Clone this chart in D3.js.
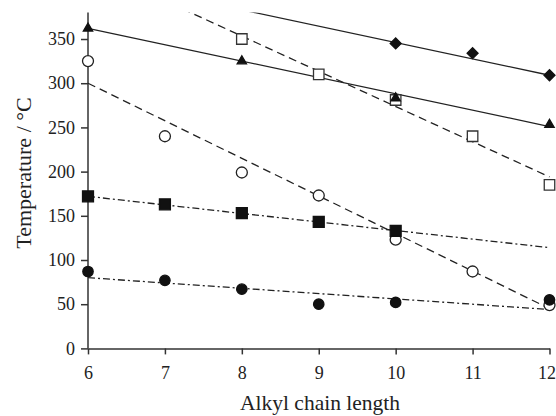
<!DOCTYPE html>
<html>
<head>
<meta charset="utf-8">
<script src="https://cdn.jsdelivr.net/npm/d3@7"></script>
<style>
  body { margin: 0; background: #fff; }
  text { font-family: "Liberation Serif", "Times New Roman", serif; }
</style>
</head>
<body>
<div class="canvas"></div>
<script>
const width = 556;
const height = 416;

// Data
const xTicks = [6, 7, 8, 9, 10, 11, 12];
const yTicks = [0, 50, 100, 150, 200, 250, 300, 350];

const diamondPts = [[10, 345], [11, 334], [12, 309]];
const diamondFit = [[6, 420], [12, 309]];

const trianglePts = [[6, 362], [8, 325], [10, 283], [12, 253]];
const triangleFit = [[6, 362], [12, 251]];

const openSquarePts = [[8, 350], [9, 310], [10, 281], [11, 240], [12, 185]];
const openSquareFit = [[6, 433], [12, 194]];

const openCirclePts = [[6, 325], [7, 240], [8, 199], [9, 173], [10, 123], [11, 87], [12, 49]];
const openCircleFit = [[6, 300], [12, 45]];

const filledSquarePts = [[6, 172], [7, 163], [8, 153], [9, 143], [10, 133]];
const filledSquareFit = [[6, 172], [12, 114]];

const filledCirclePts = [[6, 87], [7, 77], [8, 67], [9, 50], [10, 52], [12, 55]];
const filledCircleFit = [[6, 80], [12, 44]];

// Scales
const xScale = d3.scaleLinear().domain([6, 12]).range([88, 549.5]);
const yScale = d3.scaleLinear().domain([0, 380]).range([348.4, 12.5]);

const svg = d3.select(".canvas")
  .append("svg")
  .attr("width", width)
  .attr("height", height);

svg.append("clipPath")
  .attr("id", "plot")
  .append("rect")
  .attr("x", 80).attr("y", yScale(380))
  .attr("width", 480).attr("height", yScale(0) - yScale(380) + 10);

// Axes
const xAxis = d3.axisBottom(xScale).tickValues(xTicks).tickFormat(d3.format("d"))
  .tickSize(6).tickSizeOuter(0).tickPadding(12);
const yAxis = d3.axisLeft(yScale).tickValues(yTicks).tickFormat(d3.format("d"))
  .tickSize(7).tickSizeOuter(0).tickPadding(6);

const gx = svg.append("g")
  .attr("transform", `translate(0,${yScale(0)})`)
  .call(xAxis);
const gy = svg.append("g")
  .attr("transform", `translate(${xScale(6)},0)`)
  .call(yAxis);

[gx, gy].forEach(g => {
  g.selectAll("path, line").attr("stroke", "#333").attr("stroke-width", 1.5);
  g.selectAll("text").attr("font-size", 18).attr("fill", "#222")
    .style("font-family", "'Liberation Serif', serif");
});
gy.select(".domain").attr("d", `M0,${yScale(0)}V${yScale(380)}`);
// keep the last x label inside the frame
gx.selectAll(".tick text").filter(d => d === 12).attr("dx", -3);

// Axis titles
svg.append("text")
  .attr("x", 320)
  .attr("y", 410)
  .attr("text-anchor", "middle")
  .attr("font-size", 21.5)
  .attr("fill", "#222")
  .text("Alkyl chain length");

svg.append("text")
  .attr("transform", "translate(31,173) rotate(-90)")
  .attr("text-anchor", "middle")
  .attr("font-size", 22)
  .attr("fill", "#222")
  .text("Temperature / \u00B0C");

// Fit lines
const line = d3.line().x(d => xScale(d[0])).y(d => yScale(d[1]));
const plot = svg.append("g").attr("clip-path", "url(#plot)");

const fits = [
  [diamondFit, null],
  [triangleFit, null],
  [openSquareFit, "8,5"],
  [openCircleFit, "8,5"],
  [filledSquareFit, "7,3,2,3"],
  [filledCircleFit, "7,3,2,3"]
];
fits.forEach(([d, dash]) => {
  plot.append("path")
    .datum(d)
    .attr("d", line)
    .attr("fill", "none")
    .attr("stroke", "#222")
    .attr("stroke-width", 1.3)
    .attr("stroke-dasharray", dash);
});

// Markers
function drawPoints(data, type, size, fill, stroke, rot) {
  svg.append("g")
    .selectAll("path")
    .data(data)
    .enter()
    .append("path")
    .attr("transform", d => `translate(${xScale(d[0])},${yScale(d[1])}) rotate(${rot || 0})`)
    .attr("d", d3.symbol().type(type).size(size))
    .attr("fill", fill)
    .attr("stroke", stroke)
    .attr("stroke-width", 1.3);
}

drawPoints(openSquarePts, d3.symbolSquare, 110, "#fff", "#333");
drawPoints(openCirclePts, d3.symbolCircle, 95, "#fff", "#222");
drawPoints(filledSquarePts, d3.symbolSquare, 120, "#111", "#111");
drawPoints(filledCirclePts, d3.symbolCircle, 85, "#111", "#111");
drawPoints(trianglePts, d3.symbolTriangle, 38, "#111", "#111");
drawPoints(diamondPts, d3.symbolSquare, 60, "#111", "#111", 45);
</script>
</body>
</html>
